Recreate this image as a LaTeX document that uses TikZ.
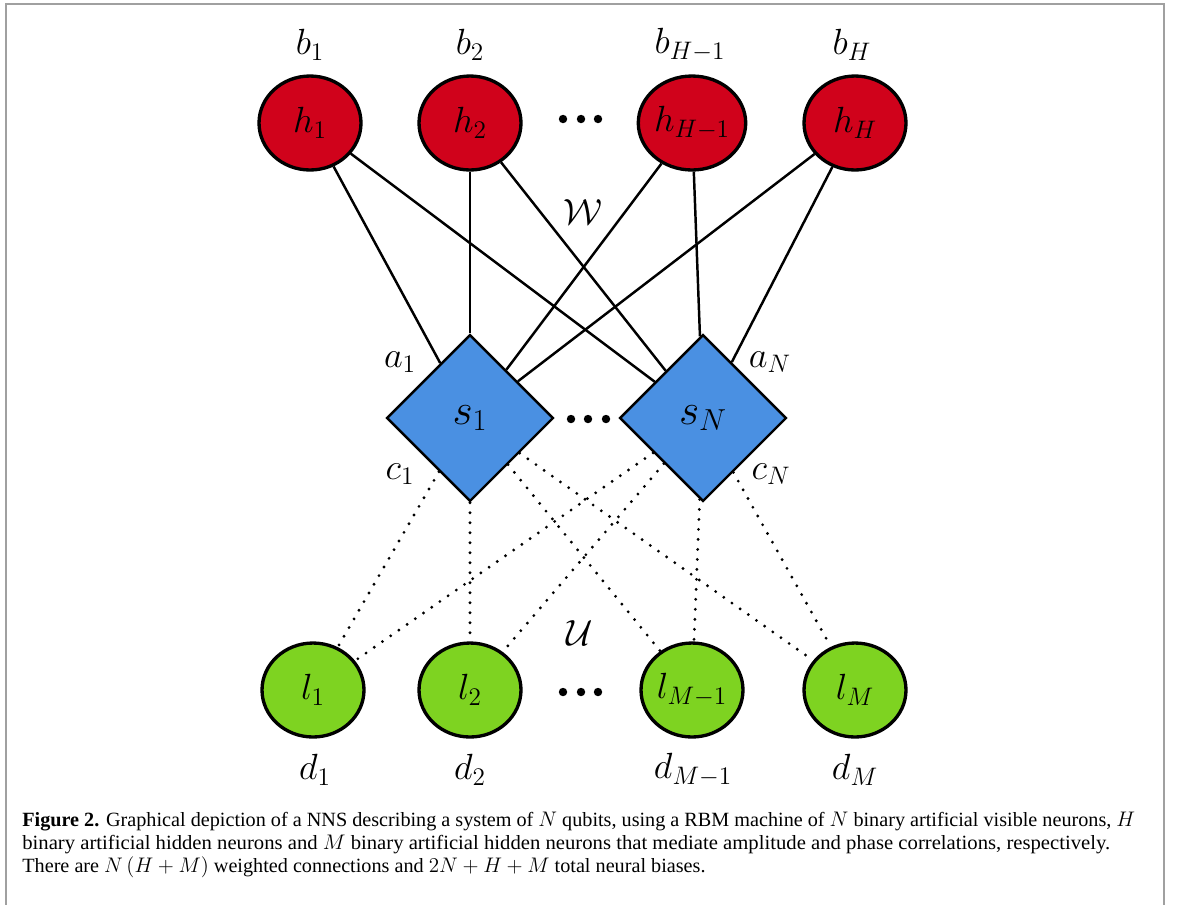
\documentclass[tikz,border=0pt]{standalone}
\usepackage{amsmath}
\usepackage{amssymb}
\usepackage{graphicx}
\usepackage{fontspec}
\setmainfont{Liberation Serif}
\usepackage{tikz}
\usetikzlibrary{shapes, positioning}

\definecolor{hidred}{RGB}{208,2,27}
\definecolor{visblue}{RGB}{74,144,226}
\definecolor{phasegreen}{RGB}{126,211,33}
\definecolor{framegray}{RGB}{160,160,160}

\begin{document}
\begin{tikzpicture}[x = 0.02cm, y = -0.02cm,
  hidden/.style = {ellipse, draw, line width = 1.9pt, fill = hidred,
    minimum width = 2.04cm, minimum height = 1.88cm, inner sep = 0pt,
    font = \fontsize{20}{24}\selectfont},
  phase/.style = {hidden, fill = phasegreen},
  visible/.style = {diamond, draw, line width = 1.4pt, fill = visblue,
    minimum width = 3.34cm, minimum height = 3.34cm, inner sep = 0pt,
    font = \fontsize{25}{30}\selectfont},
  lab/.style = {inner sep = 0pt, font = \fontsize{20}{24}\selectfont},
  wire/.style = {line width = 1.4pt},
  dotwire/.style = {line width = 1.8pt, line cap = round,
    dash pattern = on 0pt off 0.2cm},
  capline/.style = {inner sep = 0pt, anchor = base west,
    font = \fontsize{11.5}{13}\selectfont}]

\useasboundingbox (0, 0) rectangle (1179, 904);
\draw[framegray, line width = 1.1pt] (6, 930) |- (1164, 4) -- (1164, 930);

% hidden layer (amplitude)
\node[hidden] (h1) at (310, 123) {$h_1$};
\node[hidden] (h2) at (470, 123) {$h_2$};
\node[hidden] (hH1) at (692, 123) {$h_{H-1}$};
\node[hidden] (hH) at (855, 123) {$h_H$};

\node[lab] (b1) at (310, 45) {$b_1$};
\node[lab] (b2) at (470, 45) {$b_2$};
\node[lab] (bH1) at (690, 45) {$b_{H-1}$};
\node[lab] (bH) at (852, 45) {$b_H$};

% visible layer
\node[visible] (s1) at (470, 418) {$s_1$};
\node[visible] (sN) at (703, 418) {$s_N$};

\node[lab] (a1) at (400, 362) {$a_1$};
\node[lab] (aN) at (770, 362) {$a_N$};
\node[lab] (c1) at (400, 474) {$c_1$};
\node[lab] (cN) at (771, 474) {$c_N$};

% hidden layer (phase)
\node[phase] (l1) at (313, 690) {$l_1$};
\node[phase] (l2) at (470, 690) {$l_2$};
\node[phase] (lM1) at (692, 690) {$l_{M-1}$};
\node[phase] (lM) at (855, 690) {$l_M$};

\node[lab] (d1) at (315, 770) {$d_1$};
\node[lab] (d2) at (470, 770) {$d_2$};
\node[lab] (dM1) at (693, 770) {$d_{M-1}$};
\node[lab] (dM) at (855, 770) {$d_M$};

\node[lab] (W) at (583, 212) {$\mathcal{W}$};
\node[lab] (U) at (580, 633) {$\mathcal{U}$};

% dots
\fill (563, 119) circle [radius = 2.4pt] (581, 119) circle [radius = 2.4pt]
   (598, 119) circle [radius = 2.4pt];
\fill (571, 419) circle [radius = 2.4pt] (588, 419) circle [radius = 2.4pt]
   (606, 419) circle [radius = 2.4pt];
\fill (563, 692) circle [radius = 2.4pt] (581, 692) circle [radius = 2.4pt]
   (598, 692) circle [radius = 2.4pt];

% weights W
\draw[wire] (h1) -- (s1);
\draw[wire] (h1) -- (sN);
\draw[wire] (h2) -- (s1);
\draw[wire] (h2) -- (sN);
\draw[wire] (hH1) -- (s1);
\draw[wire] (hH1) -- (sN);
\draw[wire] (hH) -- (s1);
\draw[wire] (hH) -- (sN);

% weights U
\draw[dotwire] (s1) -- (l1);
\draw[dotwire] (s1) -- (l2);
\draw[dotwire] (s1) -- (lM1);
\draw[dotwire] (s1) -- (lM);
\draw[dotwire] (sN) -- (l1);
\draw[dotwire] (sN) -- (l2);
\draw[dotwire] (sN) -- (lM1);
\draw[dotwire] (sN) -- (lM);

% caption
\node[capline] (cap1) at (22, 826) {\resizebox{22.26cm}{\height}{\textbf{Figure 2.}
  Graphical depiction of a NNS describing a system of $N$ qubits, using a RBM machine
  of $N$ binary artificial visible neurons, $H$}};
\node[capline] (cap2) at (22, 849) {\resizebox{21.76cm}{\height}{binary artificial
  hidden neurons and $M$ binary artificial hidden neurons that mediate amplitude and
  phase correlations, respectively.}};
\node[capline] (cap3) at (22, 872) {There are
  $N\,(H+M)$ weighted connections and $2N+H+M$ total neural biases.};

\end{tikzpicture}
\end{document}
